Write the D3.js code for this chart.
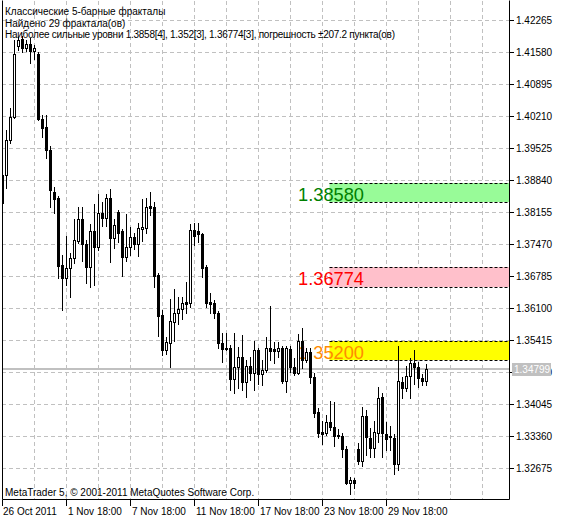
<!DOCTYPE html>
<html>
<head>
<meta charset="utf-8">
<script src="https://cdn.jsdelivr.net/npm/d3@7/dist/d3.min.js"></script>
<style>
  html, body { margin: 0; padding: 0; background: #ffffff; }
  svg { display: block; }
  text { font-family: "Liberation Sans", Arial, sans-serif; }
</style>
</head>
<body>
<svg id="chart" width="562" height="521"></svg>
<script>
// ---------------- DATA ----------------
const titleLines = [
  "Классические 5-барные фракталы",
  "Найдено 29 фрактала(ов)",
  "Наиболее сильные уровни 1.3858[4], 1.352[3], 1.36774[3], погрешность ±207.2 пункта(ов)"
];
const copyright = "MetaTrader 5, © 2001-2011 MetaQuotes Software Corp.";

// H6 bars, first bar 26 Oct 2011 18:00
const open = [1.38958,1.38958,1.39707,1.40199,1.41719,1.41869,1.41676,1.41762,1.41612,1.41548,
  1.40157,1.39985,1.39493,1.38594,1.38465,1.37031,1.36753,1.36967,1.37181,1.37545,
  1.38016,1.37481,1.36988,1.37759,1.37416,1.38144,1.38037,1.38465,1.37609,1.38166,
  1.37759,1.37202,1.37416,1.37631,1.37481,1.37802,1.37823,1.38294,1.38273,1.36817,
  1.35961,1.35212,1.35361,1.35811,1.36004,1.36089,1.36239,1.36218,1.37780,1.37759,
  1.37695,1.36988,1.36239,1.36218,1.36004,1.35361,1.35254,1.35254,1.34591,1.34848,
  1.35062,1.34527,1.34869,1.34719,1.35212,1.34698,1.34784,1.35254,1.35233,1.35190,
  1.35254,1.34548,1.35233,1.34848,1.34719,1.35404,1.34998,1.35169,1.34634,1.33884,
  1.33456,1.33435,1.33670,1.33563,1.33392,1.33371,1.33092,1.32365,1.32429,1.33092,
  1.32836,1.33799,1.33328,1.33114,1.33435,1.34206,1.33414,1.33371,1.33328,1.32771,
  1.34527,1.34398,1.34655,1.34933,1.34848,1.34612,1.34548];
const high = [1.39022,1.39921,1.40392,1.41848,1.41912,1.41933,1.41848,1.41890,1.41741,1.41591,
  1.40242,1.40242,1.39579,1.38701,1.38508,1.37245,1.37652,1.37288,1.38016,1.38273,
  1.38273,1.37566,1.37909,1.38337,1.38551,1.38380,1.38551,1.38658,1.38016,1.38208,
  1.37802,1.38123,1.37845,1.37716,1.37930,1.38444,1.38465,1.38594,1.38380,1.36860,
  1.36068,1.35490,1.36303,1.36517,1.36346,1.36346,1.36667,1.37909,1.37930,1.37930,
  1.37716,1.37031,1.36432,1.36282,1.36046,1.35576,1.35576,1.35319,1.35576,1.35276,
  1.35533,1.34998,1.35062,1.35404,1.35254,1.34998,1.35490,1.36154,1.35383,1.35383,
  1.35297,1.35297,1.35297,1.35040,1.35554,1.35683,1.35254,1.35254,1.34719,1.33970,
  1.33692,1.33820,1.34120,1.34099,1.33521,1.33435,1.33157,1.32493,1.32472,1.33221,
  1.33992,1.33927,1.33542,1.33692,1.34420,1.34291,1.33670,1.33585,1.33414,1.35297,
  1.34634,1.34869,1.35040,1.35212,1.34955,1.34698,1.34912];
const low = [1.38294,1.38679,1.39643,1.40178,1.41634,1.41591,1.41612,1.41355,1.41441,1.40135,
  1.39771,1.39322,1.38273,1.38144,1.36753,1.36068,1.36603,1.36346,1.37074,1.37502,
  1.37117,1.36646,1.36560,1.36603,1.37352,1.37866,1.37866,1.37095,1.37395,1.37523,
  1.36796,1.37117,1.37245,1.37374,1.37224,1.37545,1.37716,1.38101,1.36560,1.35511,
  1.35105,1.35126,1.34848,1.35404,1.35768,1.35875,1.36004,1.36132,1.37459,1.37523,
  1.36774,1.36132,1.36004,1.35897,1.35254,1.34955,1.35212,1.34355,1.34291,1.34398,
  1.34355,1.34206,1.34569,1.34355,1.34484,1.34462,1.34741,1.34998,1.34933,1.35062,
  1.34505,1.34313,1.34741,1.34677,1.34698,1.34826,1.34955,1.34505,1.33777,1.33349,
  1.33199,1.33392,1.33499,1.33157,1.33328,1.32921,1.32343,1.32129,1.32258,1.32771,
  1.32729,1.32964,1.32921,1.32921,1.33242,1.32921,1.33071,1.33071,1.32557,1.32643,
  1.34184,1.34334,1.34184,1.34484,1.34420,1.34462,1.34462];
const close = [1.38358,1.39707,1.40199,1.41548,1.41848,1.41676,1.41762,1.41612,1.41676,1.40157,
  1.39964,1.39493,1.38637,1.38444,1.37010,1.36753,1.36967,1.37181,1.37566,1.38016,
  1.37481,1.36988,1.37759,1.37416,1.38144,1.38037,1.38465,1.37609,1.37887,1.37716,
  1.37202,1.37416,1.37631,1.37481,1.37823,1.37845,1.38273,1.38251,1.36796,1.35939,
  1.35212,1.35383,1.35832,1.36004,1.36089,1.36218,1.36196,1.37780,1.37652,1.37695,
  1.36967,1.36218,1.36196,1.36004,1.35361,1.35233,1.35233,1.34591,1.34848,1.35062,
  1.34527,1.34869,1.34719,1.35212,1.34698,1.34784,1.35254,1.35190,1.35190,1.35254,
  1.34548,1.35254,1.34848,1.34719,1.35404,1.34998,1.35169,1.34634,1.33863,1.33435,
  1.33414,1.33670,1.33563,1.33371,1.33371,1.33092,1.32365,1.32429,1.32365,1.32836,
  1.33799,1.33349,1.33114,1.33456,1.34184,1.33435,1.33306,1.33349,1.32771,1.34548,
  1.34398,1.34655,1.34933,1.34848,1.34612,1.34548,1.34799];

const timeTickBars = [0, 16, 32, 48, 64, 80, 96];
const timeTickLabels = ["26 Oct 2011","1 Nov 18:00","7 Nov 18:00","11 Nov 18:00","17 Nov 18:00","23 Nov 18:00","29 Nov 18:00"];
const priceTicks = [1.42265,1.41580,1.40895,1.40210,1.39525,1.38840,1.38155,1.37470,1.36785,1.36100,1.35415,1.34730,1.34045,1.33360,1.32675];

const levelValues = [1.38580, 1.36774, 1.35200];
const levelLabels = ["1.38580", "1.36774", "1.35200"];
const levelFill = ["#98fb98", "#ffc0cb", "#ffff00"];
const levelText = ["#008000", "#ff0000", "#ff8c00"];
const levelTolerance = 0.002072;
const currentPrice = 1.34799;
const levelStartBar = 82;

// ---------------- LAYOUT ----------------
const svg = d3.select("#chart");
const plot = { left: 2, right: 509, top: 1, bottom: 500 };
const n = open.length;
const bars = d3.range(n);

const x = d3.scaleBand().domain(bars).range([1, 4 * n]).paddingInner(0.25).paddingOuter(0);
const xc = k => x(k) + 1.5;
const y = d3.scaleLinear().domain([priceTicks[priceTicks.length - 1], priceTicks[0]]).range([468.5, 20.5]);
const yr = v => Math.round(y(v));

svg.append("defs").append("clipPath").attr("id", "clip")
  .append("rect").attr("x", plot.left).attr("y", plot.top)
  .attr("width", plot.right - plot.left).attr("height", plot.bottom - plot.top);

const g = svg.append("g").attr("clip-path", "url(#clip)");

// grid
const gridV = d3.range(0, 4 * n + 40, 8).filter(k => 2.5 + 4 * k < plot.right);
g.append("g").selectAll("line").data(gridV).join("line")
  .attr("x1", k => Math.floor(x.step() * k + 2) + 0.5)
  .attr("x2", k => Math.floor(x.step() * k + 2) + 0.5)
  .attr("y1", plot.top).attr("y2", plot.bottom)
  .attr("stroke", "#c0c0c0").attr("stroke-dasharray", "4,3");
g.append("g").selectAll("line").data(priceTicks).join("line")
  .attr("x1", plot.left).attr("x2", plot.right)
  .attr("y1", d => Math.floor(y(d)) + 0.5).attr("y2", d => Math.floor(y(d)) + 0.5)
  .attr("stroke", "#c0c0c0").attr("stroke-dasharray", "4,3");

// level zones
const xLevel = Math.floor(x(levelStartBar)) + 0.5;
levelValues.forEach((lv, i) => {
  const top = yr(lv + levelTolerance), bot = yr(lv - levelTolerance);
  g.append("rect").attr("x", xLevel).attr("y", top).attr("width", plot.right - xLevel).attr("height", bot - top)
    .attr("fill", levelFill[i]);
  [top, bot].forEach(yy => g.append("line").attr("x1", xLevel).attr("x2", plot.right)
    .attr("y1", yy + 0.5).attr("y2", yy + 0.5).attr("stroke", "#000").attr("stroke-dasharray", "3,2"));
  g.append("text").attr("x", 298).attr("y", y(lv) + 8)
    .attr("fill", levelText[i]).attr("font-size", "19px")
    .attr("textLength", 66).attr("lengthAdjust", "spacingAndGlyphs")
    .text(levelLabels[i]);
});

// current price line
g.append("line").attr("x1", plot.left).attr("x2", plot.right)
  .attr("y1", yr(currentPrice)).attr("y2", yr(currentPrice))
  .attr("stroke", "#c0c0c0").attr("stroke-width", 2);

// candles
const cg = g.append("g");
bars.forEach(k => {
  const o = open[k], c = close[k], h = high[k], l = low[k];
  const L = x(k);
  cg.append("line").attr("x1", L + 1.5).attr("x2", L + 1.5)
    .attr("y1", yr(h)).attr("y2", yr(l) + 1).attr("stroke", "#000");
  const top = yr(Math.max(o, c)), bot = yr(Math.min(o, c));
  if (c >= o && bot - top >= 2) {
    cg.append("rect").attr("x", L + 0.5).attr("y", top + 0.5).attr("width", 2).attr("height", bot - top)
      .attr("fill", "#fff").attr("stroke", "#000");
  } else {
    cg.append("rect").attr("x", L).attr("y", top).attr("width", 3).attr("height", bot - top + 1)
      .attr("fill", "#000");
  }
});

// frame
svg.append("path")
  .attr("d", `M${plot.left + 0.5},${plot.top - 0.5}V${plot.bottom - 0.5}H${plot.right + 0.5}V${plot.top - 0.5}`)
  .attr("fill", "none").attr("stroke", "#000");

// y axis
const ya = svg.append("g");
const cy = yr(currentPrice);
priceTicks.forEach(p => {
  const yy = Math.floor(y(p)) + 0.5;
  ya.append("line").attr("x1", plot.right).attr("x2", plot.right + 5).attr("y1", yy).attr("y2", yy).attr("stroke", "#000");
  ya.append("text").attr("x", 516).attr("y", yy + 3.5).attr("font-size", "10px").attr("fill", "#000").text(p.toFixed(5));
});
// current price label (covers the tick label beneath it, as in the terminal)
ya.append("rect").attr("x", 512).attr("y", cy - 6).attr("width", 39).attr("height", 13).attr("fill", "#c0c0c0");
ya.append("text").attr("x", 514).attr("y", cy + 4).attr("font-size", "10px").attr("fill", "#fff").text(currentPrice.toFixed(5));

// x axis
const xa = svg.append("g");
timeTickBars.forEach((k, i) => {
  const xx = Math.floor(xc(k)) + 0.5;
  xa.append("line").attr("x1", xx).attr("x2", xx).attr("y1", plot.bottom).attr("y2", plot.bottom + 6).attr("stroke", "#000");
  xa.append("text").attr("x", i === 0 ? 3 : xx + 1.5).attr("y", 515).attr("font-size", "10px").attr("fill", "#000").text(timeTickLabels[i]);
});

// titles
titleLines.forEach((t, i) => {
  const tx = svg.append("text").attr("x", 5).attr("y", 15 + i * 11.5).attr("font-size", "10px").attr("fill", "#000").text(t);
  if (i === 2) tx.attr("textLength", 390).attr("lengthAdjust", "spacing");
});
svg.append("text").attr("x", 5).attr("y", 496).attr("font-size", "10px").attr("fill", "#000").text(copyright);
</script>
</body>
</html>
